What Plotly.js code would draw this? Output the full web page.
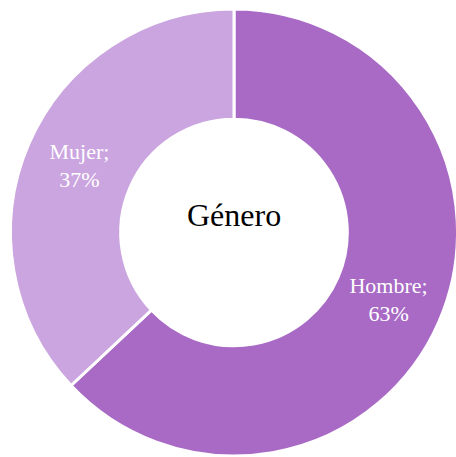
<!DOCTYPE html>
<html>
<head>
<meta charset="utf-8">
<script src="https://cdn.plot.ly/plotly-3.0.1.min.js"></script>
<style>
html,body{margin:0;padding:0;overflow:hidden;background:#fff;}
#chart{width:460px;height:457px;}
</style>
</head>
<body>
<div id="chart"></div>
<script>
const categories = ["Hombre", "Mujer"];
const values = [63, 37];
const colors = ["#A86AC5", "#CBA5DF"];
const centerTitle = "Género";

const W = 460, H = 457;
const cx = 234, cy = 232.5, R = 223.5;

const trace = {
  type: "pie",
  labels: categories,
  values: values,
  hole: 0.507,
  sort: false,
  direction: "clockwise",
  rotation: 0,
  marker: {colors: colors, line: {color: "#ffffff", width: 3}},
  text: categories.map((c, i) => c + ";<br>" + values[i] + "%"),
  textinfo: "text",
  textposition: "inside",
  insidetextorientation: "horizontal",
  insidetextfont: {family: "Liberation Serif", size: 22, color: "#ffffff"},
  hoverinfo: "none",
  domain: {
    x: [(cx - R) / W, (cx + R) / W],
    y: [(H - cy - R) / H, (H - cy + R) / H]
  }
};

const layout = {
  width: W,
  height: H,
  margin: {l: 0, r: 0, t: 0, b: 0},
  showlegend: false,
  paper_bgcolor: "#ffffff",
  annotations: [{
    text: centerTitle,
    x: cx / W,
    y: (H - 215) / H,
    xref: "paper",
    yref: "paper",
    showarrow: false,
    font: {family: "Liberation Serif", size: 32, color: "#000000"}
  }]
};

Plotly.newPlot("chart", [trace], layout, {staticPlot: true, displayModeBar: false});
</script>
</body>
</html>
